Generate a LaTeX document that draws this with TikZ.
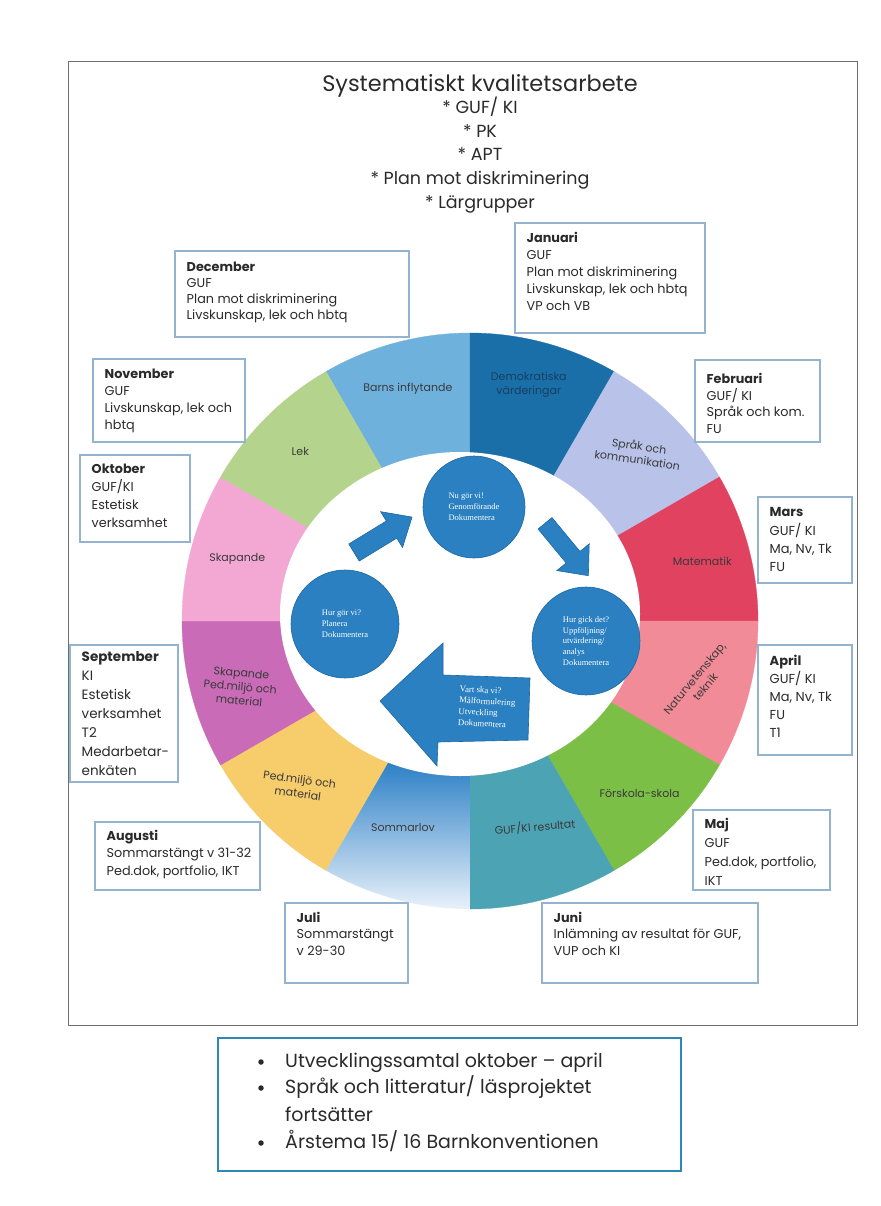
\documentclass[tikz,border=0pt]{standalone}
\usepackage{fontspec}
\setmainfont{Poppins}
\newfontfamily\serifinner{Liberation Serif}
\definecolor{boxblue}{HTML}{93B3CF}
\definecolor{txt}{HTML}{2A2A2A}
\definecolor{wtxt}{HTML}{3A3A3A}
\definecolor{frm}{HTML}{6E6E6E}
\definecolor{bbx}{HTML}{2F87B5}
\definecolor{cbarns}{HTML}{6FB1DD}
\definecolor{cdemo}{HTML}{1B6FA8}
\definecolor{demotxt}{HTML}{16405F}
\definecolor{csprak}{HTML}{B9C3EA}
\definecolor{cmat}{HTML}{E1425F}
\definecolor{cnat}{HTML}{F28B98}
\definecolor{cfsk}{HTML}{7CBF47}
\definecolor{cguf}{HTML}{4CA3B4}
\definecolor{somA}{HTML}{2B7FC6}
\definecolor{somB}{HTML}{9CC6EC}
\definecolor{somC}{HTML}{EEF4FB}
\definecolor{cped}{HTML}{F7CC6B}
\definecolor{cskped}{HTML}{C96BB6}
\definecolor{cskap}{HTML}{F2A8D2}
\definecolor{clek}{HTML}{B4D48E}
\definecolor{cycblue}{HTML}{2A80C1}
\definecolor{cycedge}{HTML}{1D68A3}
\tikzset{
  mframe/.style={draw=boxblue, line width=1.8pt, fill=white, inner sep=0pt, outer sep=0pt},
  mtext/.style={inner sep=0pt, text=txt},
  wlabel/.style={text=wtxt, font=\fontsize{11}{14}\selectfont, align=center, inner sep=0pt},
  cyc/.style={circle, fill=cycblue, draw=cycedge, line width=0.6pt, minimum size=#1, inner sep=0pt, text=white, font=\serifinner\fontsize{8.5}{10.8}\selectfont, align=left},
  arrowtxt/.style={text=white, font=\serifinner\fontsize{8.8}{11.2}\selectfont, align=left, inner sep=0pt},
  blockarrow/.style={fill=cycblue, draw=cycedge, line width=0.6pt},
  ttl/.style={text=txt, font=\fontsize{22.4}{26}\selectfont, inner sep=0pt},
  sub/.style={text=txt, font=\fontsize{17.5}{20}\selectfont, inner sep=0pt},
  btext/.style={text=txt, font=\fontsize{19}{22}\selectfont, inner sep=0pt},
  bdot/.style={circle, fill=txt, minimum size=5.5pt, inner sep=0pt},
}
\newcommand\monthbox[9]{%
  \node[mframe, anchor=north west, minimum width={#4-#2}, minimum height={#5-#3}] (#1box) at (#2,#3) {};
  \node[mtext, anchor=base west] (#1) at ({#2+11.5},{#3+#6}) {\fontsize{#9}{#7}\selectfont\begin{tabular}[t]{@{}l@{}}#8\end{tabular}};
}
\begin{document}
\begin{tikzpicture}[x=1pt,y=-1pt]
\useasboundingbox (0,0) rectangle (880,1206);
\fill[white] (0,0) rectangle (880,1206);
% outer frame
\node[draw=frm, line width=0.9pt, inner sep=0pt, minimum width=789, minimum height=964, anchor=north west] (frame) at (68,61) {};
% title
\node[ttl, anchor=base] (title) at (480,92) {Systematiskt kvalitetsarbete};
\node[sub, anchor=base] (s1) at (480,114) {* GUF/ KI};
\node[sub, anchor=base] (s2) at (480,137.5) {* PK};
\node[sub, anchor=base] (s3) at (480,161) {* APT};
\node[sub, anchor=base] (s4) at (480,185) {* Plan mot diskriminering};
\node[sub, anchor=base] (s5) at (480,208.5) {* Lärgrupper};
% wheel
\begin{scope}[shift={(470,621)}, x=1pt, y=1pt]
  \foreach \s/\c in {90/cbarns,60/cdemo,30/csprak,0/cmat,-30/cnat,-60/cfsk,-90/cguf,-150/cped,-180/cskped,150/cskap,120/clek}
    \fill[\c, draw=\c, line width=0.3pt] (0,0) -- (\s:288) arc[start angle=\s, end angle=\s+30, radius=288] -- cycle;
  \begin{scope}
    \clip (0,0) -- (-120:288) arc[start angle=-120, end angle=-90, radius=288] -- cycle;
    \shade[top color=somA, middle color=somB, bottom color=somC] (-150,-140) rectangle (0,-292);
  \end{scope}
  \fill[white] (-10,7) ellipse[x radius=180, y radius=162];
  \node[wlabel] (lbarns) at (105:240) {Barns inflytande};
  \node[wlabel, text=demotxt] (ldemo) at (76:243) {Demokratiska\\värderingar};
  \node[wlabel, rotate=-8] (lsprak) at (45:238) {Språk och\\kommunikation};
  \node[wlabel] (lmat) at (14.5:240) {Matematik};
  \node[wlabel, rotate=50] (lnat) at (-15:238) {Naturvetenskap,\\teknik};
  \node[wlabel] (lfsk) at (-45.5:242) {Förskola-skola};
  \node[wlabel, rotate=5] (lguf) at (-72.5:216) {GUF/KI resultat};
  \node[wlabel] (lsom) at (-108:217) {Sommarlov};
  \node[wlabel, rotate=-8] (lped) at (-136:238) {Ped.miljö och\\material};
  \node[wlabel, rotate=-5] (lskped) at (-164:239) {Skapande\\Ped.miljö och\\material};
  \node[wlabel] (lskap) at (165:241) {Skapande};
  \node[wlabel] (llek) at (135:240) {Lek};
\end{scope}
% inner cycle
\node[cyc=102] (c1) at (474,507) {Nu gör vi!\\Genomförande\\Dokumentera};
\node[cyc=108] (c2) at (345,624) {Hur gör vi?\\Planera\\Dokumentera};
\node[cyc=108] (c3) at (586,641) {Hur gick det?\\Uppföljning/\\utvärdering/\\analys\\Dokumentera};
\begin{scope}[shift={(354,552.5)}, rotate=31.4]
  \fill[blockarrow] (0,-10) -- (44,-10) -- (44,-21) -- (68,0) -- (44,21) -- (44,10) -- (0,10) -- cycle;
\end{scope}
\begin{scope}[shift={(545,523.3)}, rotate=-50.4]
  \fill[blockarrow] (0,-9) -- (44,-9) -- (44,-21) -- (68,0) -- (44,21) -- (44,9) -- (0,9) -- cycle;
\end{scope}
\fill[blockarrow] (530,678) -- (443,675) -- (443,643) -- (380,701) -- (437,766) -- (438,742) -- (528,740) -- cycle;
\node[arrowtxt, rotate=-3] (atxt) at (487,707) {Vart ska vi?\\Målformulering\\Utveckling\\Dokumentera};
% month boxes
\monthbox{dec}{175}{251}{409}{337}{20}{16}{\textbf{December}\\GUF\\Plan mot diskriminering\\Livskunskap, lek och hbtq}{12.8}
\monthbox{jan}{515}{223}{705}{333}{19.7}{17}{\textbf{Januari}\\GUF\\Plan mot diskriminering\\Livskunskap, lek och hbtq\\VP och VB}{12.8}
\monthbox{nov}{93}{359}{245}{442}{19}{17.3}{\textbf{November}\\GUF\\Livskunskap, lek och\\hbtq}{12.8}
\monthbox{okt}{80}{455}{190}{542}{18}{18}{\textbf{Oktober}\\GUF/KI\\Estetisk\\verksamhet}{12.8}
\monthbox{feb}{695}{360}{820}{442}{23}{16.7}{\textbf{Februari}\\GUF/ KI\\Språk och kom.\\FU}{12.8}
\monthbox{mar}{758}{497}{852}{583}{19.7}{18.3}{\textbf{Mars}\\GUF/ KI\\Ma, Nv, Tk\\FU}{13}
\monthbox{sep}{70}{645}{178}{782}{16.7}{19}{\textbf{September}\\KI\\Estetisk\\verksamhet\\T2\\Medarbetar-\\enkäten}{13.5}
\monthbox{apr}{758}{645}{852}{755}{20}{18}{\textbf{April}\\GUF/ KI\\Ma, Nv, Tk\\FU\\T1}{13}
\monthbox{aug}{95}{822}{260}{890}{18}{17.5}{\textbf{Augusti}\\Sommarstängt v 31-32\\Ped.dok, portfolio, IKT}{12.8}
\monthbox{maj}{693}{810}{830}{890}{18}{19}{\textbf{Maj}\\GUF\\Ped.dok, portfolio,\\IKT}{12.8}
\monthbox{jul}{285}{903}{408}{983}{19}{16.7}{\textbf{Juli}\\Sommarstängt\\v 29-30}{12.8}
\monthbox{jun}{542}{903}{758}{983}{19}{16.7}{\textbf{Juni}\\Inlämning av resultat för GUF,\\VUP och KI}{12.8}
% bottom box
\node[draw=bbx, line width=2.4pt, fill=white, inner sep=0pt, minimum width=463, minimum height=133, anchor=north west] (bottombox) at (217,1037) {};
\node[bdot] (b1) at (261,1062) {};
\node[btext, anchor=base west] (l1) at (285,1067) {Utvecklingssamtal oktober – april};
\node[bdot] (b2) at (261,1088) {};
\node[btext, anchor=base west] (l2) at (285,1093) {Språk och litteratur/ läsprojektet};
\node[btext, anchor=base west] (l3) at (285,1121) {fortsätter};
\node[bdot] (b3) at (261,1143) {};
\node[btext, anchor=base west] (l4) at (285,1148) {Årstema 15/ 16 Barnkonventionen};
\end{tikzpicture}
\end{document}
